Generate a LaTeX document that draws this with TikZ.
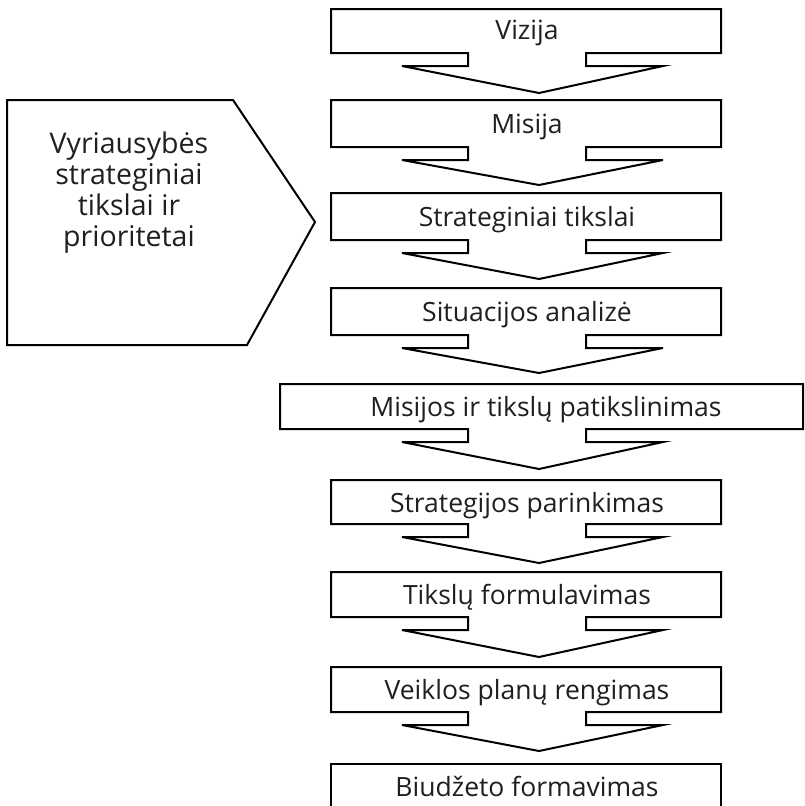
\documentclass[tikz,border=0pt]{standalone}
\usepackage{fontspec}
\setmainfont{Open Sans}
\begin{document}
\begin{tikzpicture}[x=1pt,y=-1pt,
  outline/.style={draw=black,line width=2pt,line join=miter,fill=white},
  steplabel/.style={anchor=base,inner sep=0pt,font=\fontsize{26.5}{31}\selectfont,text=black!88}]
\useasboundingbox (0,0) rectangle (805,806);
\clip (0,0) rectangle (805,806);

% one step: box from left #1 to right #2, top #3 to bottom #4,
% with a downward arrow whose tip lies at height #5
\newcommand\flowstep[5]{%
  \draw[outline] (#1,#3) -- (#2,#3) -- (#2,#4) -- (586,#4) -- (586,#4+13)
    -- (663,#4+13) -- (539,#5) -- (402,#4+13) -- (468,#4+13) -- (468,#4)
    -- (#1,#4) -- cycle;}

\flowstep{331}{721}{9}{53}{93}
\flowstep{331}{721}{100}{147}{185}
\flowstep{331}{721}{193}{240}{279}
\flowstep{331}{721}{288}{335}{373}
\flowstep{280}{803}{384}{429}{469}
\flowstep{331}{721}{480}{524}{563}
\flowstep{331}{721}{572}{617}{657}
\flowstep{331}{721}{667}{712}{751}
\draw[outline] (331,764) rectangle (721,830);

\node[steplabel] (vizija) at (527,39) {Vizija};
\node[steplabel] (misija) at (527,133) {Misija};
\node[steplabel] (tikslai) at (527,226) {Strateginiai tikslai};
\node[steplabel] (analize) at (527,321) {Situacijos analizė};
\node[steplabel] (patikslinimas) at (546,416) {Misijos ir tikslų patikslinimas};
\node[steplabel] (strategija) at (527,512) {Strategijos parinkimas};
\node[steplabel] (formulavimas) at (527,604) {Tikslų formulavimas};
\node[steplabel] (planai) at (527,699) {Veiklos planų rengimas};
\node[steplabel] (biudzetas) at (527,796) {Biudžeto formavimas};

% government input block pointing at the goals step
\draw[outline] (7,100) -- (233,100) -- (315,222) -- (247,345) -- (7,345) -- cycle;
\node[align=center,inner sep=0pt,font=\fontsize{28.5}{31}\selectfont,text=black!88,anchor=north]
  (vyriausybe) at (129,132) {Vyriausybės\\strateginiai\\tikslai ir\\prioritetai};
\end{tikzpicture}
\end{document}
